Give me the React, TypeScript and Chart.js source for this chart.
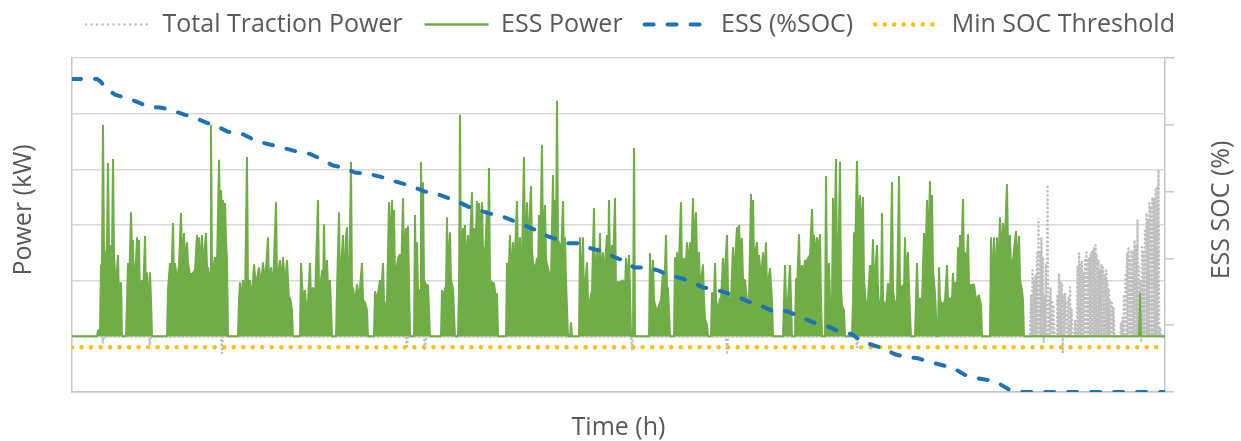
import React, { useEffect, useRef } from 'react';
import { Chart, registerables } from 'chart.js';

Chart.register(...registerables);

// ---------- data (time in minutes from start, power in kW, SOC in %) ----------
const seriesLabels = ['Total Traction Power', 'ESS Power', 'ESS (%SOC)', 'Min SOC Threshold'];
const axisTitles = { power: 'Power (kW)', soc: 'ESS SOC (%)', time: 'Time (h)' };

const timeRange = [0, 1093];
const powerRange = [-200, 1000];
const powerStep = 200;
const socRange = [0, 100];
const socStep = 20;

// ESS power samples [minute, kW]
const essPower: [number, number][] = [
  [0,0],[25,0],[26,22],[28,22],[29,256],[30,256],[31,760],[32,310],[34,266],[35,346],[36,623],[37,310],[38,202],[39,328],[40,281],[41,637],[42,292],[44,166],[45,238],[46,292],[47,130],[48,184],[49,194],[50,0],
  [54,0],[55,130],[56,263],[57,166],[59,446],[60,274],[61,346],[62,166],[64,274],[65,356],[66,202],[67,346],[68,130],[70,202],[71,130],[73,360],[74,130],[75,230],[76,94],[78,230],[79,130],[80,0],
  [95,0],[96,166],[98,263],[99,166],[101,407],[102,202],[103,263],[105,202],[107,256],[109,443],[110,256],[112,371],[113,266],[115,338],[116,263],[118,220],[121,227],[123,238],[125,364],[126,266],[127,356],[128,238],[130,364],[131,245],[134,371],[135,245],[136,248],[138,202],[139,760],[140,220],[143,284],[145,256],[147,634],[148,382],[149,526],[150,436],[151,490],[152,436],[153,479],[154,346],[155,274],[156,0],
  [166,0],[167,130],[168,194],[170,130],[171,202],[173,130],[175,644],[176,166],[178,202],[180,130],[182,259],[184,184],[187,248],[189,184],[191,266],[193,184],[196,356],[197,184],[199,248],[201,166],[204,482],[205,202],[208,274],[210,184],[211,284],[213,184],[215,274],[217,130],[218,140],[220,94],[221,0],
  [228,0],[229,263],[231,130],[233,166],[235,58],[238,263],[239,130],[241,176],[243,130],[246,490],[247,166],[249,202],[250,238],[251,166],[252,403],[253,202],[255,274],[256,166],[258,202],[260,0],
  [264,0],[265,166],[267,446],[268,166],[271,364],[272,166],[274,356],[275,392],[276,166],[277,148],[279,626],[280,166],[281,176],[283,119],[285,187],[287,130],[290,263],[291,130],[293,122],[295,94],[296,0],
  [302,0],[303,162],[305,130],[308,202],[309,130],[311,263],[312,130],[314,94],[315,130],[317,482],[318,310],[320,490],[321,310],[322,454],[323,202],[326,281],[328,295],[329,202],[331,497],[332,274],[334,389],[335,274],[336,396],[337,202],[338,0],
  [342,0],[343,436],[344,166],[345,338],[346,166],[348,166],[349,626],[350,274],[351,554],[352,202],[354,184],[356,184],[358,0],
  [369,0],[370,166],[372,130],[373,176],[374,166],[375,428],[376,202],[378,374],[379,202],[381,173],[383,0],
  [386,0],[387,166],[388,796],[389,202],[391,389],[392,238],[393,400],[394,238],[396,364],[397,238],[400,518],[401,274],[402,389],[403,274],[405,486],[406,346],[407,479],[408,346],[410,482],[411,310],[412,320],[413,292],[415,454],[416,310],[417,605],[418,202],[420,194],[422,191],[424,130],[425,155],[426,0],
  [434,0],[435,263],[436,166],[438,364],[439,202],[441,338],[442,202],[445,486],[446,238],[448,356],[449,220],[450,274],[452,644],[453,274],[455,482],[456,310],[459,540],[460,310],[461,266],[463,238],[465,281],[466,238],[467,436],[468,274],[470,688],[471,310],[473,472],[474,274],[477,230],[479,202],[481,580],[482,310],[483,490],[484,346],[485,846],[486,346],[488,328],[489,274],[491,486],[492,274],[493,356],[494,202],[496,0],
  [498,0],[499,50],[500,0],
  [507,0],[508,356],[509,130],[511,356],[512,130],[515,266],[516,130],[518,130],[520,166],[522,461],[523,166],[525,302],[526,166],[528,371],[529,202],[531,302],[532,202],[535,364],[536,238],[537,490],[538,238],[540,328],[541,238],[543,497],[544,166],[545,194],[548,194],[551,202],[553,166],[554,281],[555,166],[557,292],[558,166],[559,0],
  [561,0],[562,677],[563,0],
  [577,0],[578,299],[579,130],[581,274],[582,130],[585,86],[587,112],[589,130],[591,230],[592,130],[594,364],[595,166],[596,176],[598,0],
  [602,0],[603,284],[604,166],[605,302],[606,166],[609,482],[610,238],[612,281],[613,202],[615,338],[616,238],[618,338],[619,238],[621,497],[622,310],[624,446],[625,274],[627,302],[628,166],[631,259],[632,130],[633,65],[635,40],[636,0],
  [639,0],[640,158],[642,130],[643,263],[644,130],[646,94],[648,137],[649,130],[651,281],[652,166],[655,364],[656,166],[657,137],[659,130],[661,320],[662,202],[665,392],[666,310],[667,400],[668,310],[670,353],[671,202],[673,202],[675,130],[677,130],[679,511],[680,310],[681,490],[682,274],[685,338],[686,238],[687,292],[689,202],[691,302],[692,202],[694,338],[695,166],[698,245],[700,130],[701,0],
  [711,0],[713,256],[714,130],[716,130],[718,256],[719,130],[720,0],
  [723,0],[724,209],[725,166],[727,367],[728,202],[730,256],[731,202],[733,274],[734,266],[736,281],[738,292],[740,457],[741,310],[742,364],[743,292],[745,356],[746,292],[748,367],[749,130],[750,0],
  [753,0],[754,576],[755,166],[757,263],[758,130],[760,130],[761,497],[762,202],[764,637],[765,274],[766,166],[768,626],[769,166],[770,112],[772,94],[773,0],
  [780,0],[781,130],[782,374],[783,274],[785,630],[786,382],[788,508],[789,346],[791,500],[792,202],[794,112],[796,130],[798,256],[799,130],[801,349],[802,166],[805,328],[806,166],[807,112],[809,130],[810,443],[811,130],[814,104],[816,191],[818,130],[820,554],[821,166],[823,112],[825,130],[827,576],[828,166],[831,184],[832,166],[833,356],[834,202],[836,302],[837,166],[839,0],
  [843,0],[845,263],[846,130],[848,137],[850,130],[852,371],[853,202],[855,490],[856,274],[858,558],[859,310],[860,508],[861,238],[863,155],[865,0],
  [866,0],[867,248],[868,130],[871,112],[873,130],[875,256],[876,130],[878,137],[880,130],[881,227],[882,130],[883,194],[885,166],[886,320],[887,202],[888,364],[889,238],[891,493],[892,238],[893,302],[894,202],[896,367],[897,184],[900,184],[902,187],[904,130],[905,137],[907,148],[909,112],[910,0],
  [918,0],[919,356],[920,166],[922,356],[923,166],[925,356],[926,202],[928,428],[929,274],[931,407],[932,274],[935,547],[936,310],[938,364],[939,238],[941,274],[944,378],[945,238],[947,360],[948,202],[950,166],[951,130],[952,0],
  [1067,0],[1068,155],[1069,0],[1093,0],
];

// Total traction power samples [minute, kW] (coincides with ESS power where ESS is active)
const tractionPower: [number, number][] = [
  [0,0],[30,0],[31,-25],[32,0],[77,0],[78,-32],[79,0],[149,0],[150,-61],[151,0],[334,0],[335,-43],[336,0],[352,0],[353,-50],[354,0],
  [559,0],[560,-50],[561,0],[654,0],[655,-58],[656,0],[784,0],[785,-40],[786,0],
  [958,0],[959,150],[959.75,0],[960.5,238],[961.25,0],[962,200],[962.75,0],[963.5,220],[964.25,0],[965,300],[965.75,0],[966.5,425],[967.25,0],[968,300],[968.75,0],[969.5,356],[970.25,0],[971,284],[971.75,-22],[972.5,150],[973.25,0],[974,260],[974.75,0],[975.5,544],[976.25,0],[977,130],[977.75,0],[978.5,176],[979.25,0],[980,130],[980.75,0],[981.5,104],[982.5,0],
  [985,0],[985.5,150],[986.25,0],[987,227],[987.75,0],[988.5,200],[989.25,0],[990,191],[990.75,-58],[991.5,150],[992.25,0],[993,155],[993.75,0],[994.5,120],[995.5,0],[996.5,140],[997.25,0],[998,176],[998.75,0],[999.5,100],[1000.5,0],[1002.5,0],[1003,58],[1004,0],
  [1005,0],[1005.5,250],[1006.25,0],[1007,299],[1007.75,0],[1008.5,260],[1009.25,0],[1010,274],[1010.75,0],[1011.5,230],[1012.25,0],[1013,280],[1013.75,0],[1014.5,302],[1015.25,0],[1016,280],[1016.75,0],[1017.5,284],[1018.25,0],[1019,300],[1019.75,0],[1020.5,310],[1021.25,0],[1022,320],[1022.75,0],[1023.5,328],[1024.25,0],[1025,290],[1025.75,0],[1026.5,274],[1027.25,0],[1028,240],[1028.75,0],[1029.5,260],[1030.25,0],[1031,248],[1031.75,0],[1032.5,220],[1033.25,0],[1034,238],[1034.75,0],[1035.5,200],[1036.25,0],[1037,170],[1037.75,0],[1038.5,130],[1039.25,0],[1040,120],[1040.75,0],[1041.5,104],[1042.5,0],
  [1048.5,0],[1049,50],[1049.75,0],[1050.5,68],[1051.25,0],[1052,150],[1052.75,0],[1053.5,227],[1054.25,0],[1055,300],[1055.75,0],[1056.5,317],[1057.25,0],[1058,280],[1058.75,0],[1059.5,310],[1060.25,0],[1061,300],[1061.75,0],[1062.5,346],[1063.25,0],[1064,330],[1064.75,0],[1065.5,418],[1066.25,0],[1067,250],[1067.75,0],[1068.5,200],[1069.25,-22],[1070,320],[1070.75,0],[1071.5,300],[1072.25,0],[1073,380],[1073.75,0],[1074.5,443],[1075.25,0],[1076,420],[1076.75,0],[1077.5,479],[1078.25,0],[1079,460],[1079.75,0],[1080.5,500],[1081.25,0],[1082,497],[1082.75,0],[1083.5,526],[1084.25,0],[1085,540],[1085.75,0],[1086.5,598],[1087.25,0],[1088,32],[1089,0],[1093,0],
];

// ESS state of charge [minute, %]
const essSoc: [number, number][] = [
  [0,93.7],[25,93.7],[28,93.1],[35,90.7],[43,89.0],[53,88.1],[65,86.9],[76,85.4],[90,85.1],[101,84.2],[113,83.0],[125,81.8],[135,80.6],[146,79.4],[156,77.9],[168,77.6],[180,75.8],[191,74.6],[203,73.7],[215,72.8],[226,71.9],[238,71.3],[250,69.6],[261,67.8],[271,67.2],[283,65.7],[295,65.4],[308,64.5],[320,63.3],[331,62.4],[343,61.2],[353,60.0],[364,59.4],[375,58.2],[386,57.0],[396,55.5],[408,54.3],[418,53.4],[431,52.5],[441,51.3],[452,49.9],[462,48.7],[473,46.9],[485,45.7],[495,44.5],[508,44.5],[519,43.0],[530,42.1],[541,40.6],[551,39.4],[562,37.3],[575,37.3],[586,36.4],[598,34.9],[610,34.0],[621,32.8],[631,31.3],[643,30.7],[655,29.6],[666,28.4],[678,26.9],[690,25.7],[701,24.2],[715,24.2],[725,23.0],[736,21.5],[746,20.3],[758,19.4],[768,17.9],[780,17.3],[788,15.5],[801,14.0],[811,13.1],[823,11.3],[835,10.4],[846,10.1],[858,9.0],[881,7.2],[893,5.1],[903,4.2],[916,3.6],[926,2.7],[938,0.6],[948,0],[1093,0],
];

// Minimum SOC threshold [minute, %]
const minSocThreshold: [number, number][] = [[0,13.4],[1093,13.4]];

// ---------- styles ----------
const FONT = '"Open Sans", "Noto Sans", sans-serif';
const TEXT = '#595959';
const GRID = '#d9d9d9';
const AXIS = '#c6c6c6';
const GRAY = '#bfbfbf';
const GREEN = '#70ad47';
const BLUE = '#1f72b3';
const GOLD = '#ffc000';
const FS = 25;

const legendStyles = [
  { color: GRAY, width: 2.5, dash: [0.01, 5.5], cap: 'round' },
  { color: GREEN, width: 2.5, dash: [], cap: 'butt' },
  { color: BLUE, width: 4, dash: [9, 14], cap: 'round' },
  { color: GOLD, width: 4.5, dash: [0.01, 9.5], cap: 'round' },
];

const legendPlacement = {
  id: 'legendPlacement',
  afterLayout(chart: any) {
    const lg = chart.legend;
    if (!lg) return;
    const dx = 10;
    const h = lg.bottom - lg.top;
    lg.left += dx;
    lg.right += dx;
    lg.top = -10;
    lg.bottom = lg.top + h;
  },
};

const sideTitles = {
  id: 'sideTitles',
  afterDraw(chart: any) {
    const { ctx, chartArea } = chart;
    const cy = (chartArea.top + chartArea.bottom) / 2 - 15;
    const items: [string, number][] = [
      [axisTitles.power, chartArea.left - 48],
      [axisTitles.soc, chartArea.right + 57],
    ];
    ctx.save();
    ctx.font = `${FS}px ${FONT}`;
    ctx.fillStyle = TEXT;
    ctx.textAlign = 'center';
    ctx.textBaseline = 'middle';
    for (const [text, x] of items) {
      ctx.save();
      ctx.translate(x, cy);
      ctx.rotate(-Math.PI / 2);
      ctx.fillText(text, 0, 0);
      ctx.restore();
    }
    ctx.restore();
  },
};

export default function App() {
  const ref = useRef<HTMLCanvasElement>(null);

  useEffect(() => {
    const canvas = ref.current;
    if (!canvas) return;
    Chart.defaults.font.family = FONT;
    const chart = new Chart(canvas, {
      type: 'line',
      data: {
        datasets: [
          {
            label: seriesLabels[0],
            data: tractionPower as any,
            yAxisID: 'y',
            borderColor: GRAY,
            borderWidth: 2.6,
            borderDash: [0.01, 4.2],
            borderCapStyle: 'round',
            pointRadius: 0,
            fill: false,
            tension: 0,
            order: 3,
          },
          {
            label: seriesLabels[1],
            data: essPower as any,
            yAxisID: 'y',
            borderColor: GREEN,
            backgroundColor: GREEN,
            borderWidth: 2,
            borderJoinStyle: 'bevel',
            pointRadius: 0,
            fill: 'origin',
            tension: 0,
            order: 2,
          },
          {
            label: seriesLabels[2],
            data: essSoc as any,
            yAxisID: 'y2',
            borderColor: BLUE,
            borderWidth: 4,
            borderDash: [9, 14],
            borderCapStyle: 'round',
            pointRadius: 0,
            fill: false,
            tension: 0,
            order: 0,
          },
          {
            label: seriesLabels[3],
            data: minSocThreshold as any,
            yAxisID: 'y2',
            borderColor: GOLD,
            borderWidth: 4.5,
            borderDash: [0.01, 9.5],
            borderCapStyle: 'round',
            pointRadius: 0,
            fill: false,
            tension: 0,
            order: 1,
          },
        ],
      },
      options: {
        responsive: false,
        maintainAspectRatio: false,
        animation: false,
        devicePixelRatio: 1,
        events: [],
        layout: { padding: { top: 1, left: 0, right: 0, bottom: 0 } },
        plugins: {
          tooltip: { enabled: false },
          legend: {
            display: true,
            position: 'top',
            align: 'center',
            labels: {
              usePointStyle: true,
              pointStyleWidth: 64,
              padding: 22,
              color: TEXT,
              font: { size: FS, family: FONT },
              generateLabels: () =>
                seriesLabels.map((text, i) => ({
                  text,
                  datasetIndex: i,
                  hidden: false,
                  fillStyle: legendStyles[i].color,
                  strokeStyle: legendStyles[i].color,
                  lineWidth: legendStyles[i].width,
                  lineDash: legendStyles[i].dash,
                  lineCap: legendStyles[i].cap as CanvasLineCap,
                  pointStyle: 'line',
                  fontColor: TEXT,
                })),
            },
          },
        },
        scales: {
          x: {
            type: 'linear',
            min: timeRange[0],
            max: timeRange[1],
            ticks: { display: false },
            grid: { display: false, drawTicks: false },
            border: { display: true, color: AXIS, width: 1.5 },
            title: {
              display: true,
              text: axisTitles.time,
              color: TEXT,
              font: { size: FS, family: FONT },
              padding: { top: 0, bottom: -2 },
            },
            afterFit: (s: any) => { s.height = 49; },
          },
          y: {
            type: 'linear',
            position: 'left',
            min: powerRange[0],
            max: powerRange[1],
            ticks: { display: false, stepSize: powerStep },
            grid: { color: GRID, lineWidth: 1.5, drawTicks: false },
            border: { display: true, color: AXIS, width: 1.5 },
            title: { display: false },
            afterFit: (s: any) => { s.width = 72; },
          },
          y2: {
            type: 'linear',
            position: 'right',
            min: socRange[0],
            max: socRange[1],
            ticks: { display: false, stepSize: socStep },
            grid: { drawOnChartArea: false, drawTicks: true, tickLength: 9, color: AXIS, lineWidth: 1.5 },
            border: { display: true, color: AXIS, width: 1.5 },
            title: { display: false },
            afterFit: (s: any) => { s.width = 76; },
          },
        },
      },
      plugins: [legendPlacement, sideTitles],
    } as any);
    return () => chart.destroy();
  }, []);

  return (
    <div style={{ position: 'fixed', left: 0, top: 0, width: 1241, height: 441, background: '#ffffff' }}>
      <canvas ref={ref} width={1241} height={441} style={{ display: 'block', width: 1241, height: 441 }} />
    </div>
  );
}
